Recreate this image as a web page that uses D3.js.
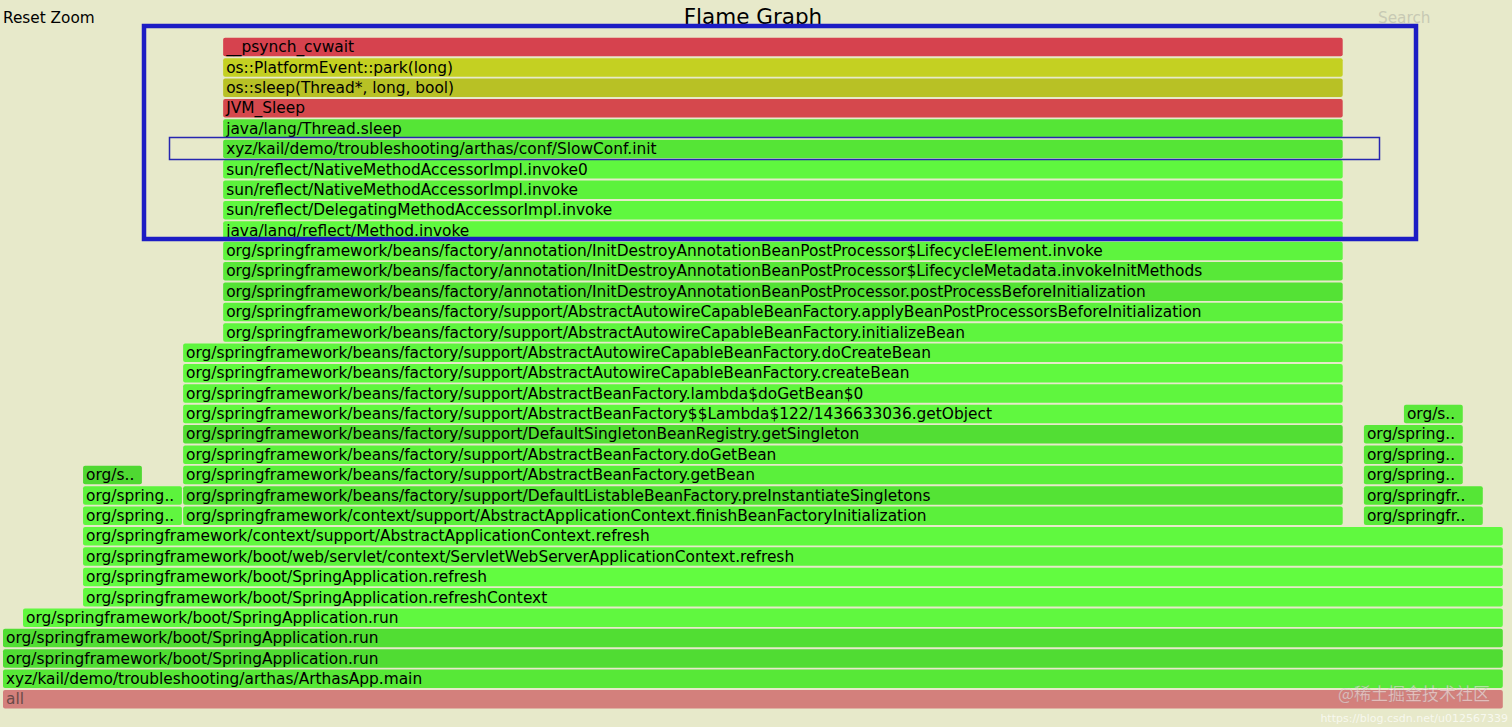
<!DOCTYPE html>
<html>
<head>
<meta charset="utf-8">
<script src="https://cdn.jsdelivr.net/npm/d3@7"></script>
<style>
  html, body { margin: 0; padding: 0; background: #e7e9ca; overflow: hidden; }
  svg { display: block; }
</style>
</head>
<body>
<svg id="chart" width="1512" height="727"></svg>
<script>
// ---------------- DATA ----------------
const totalSamples = 75;
const frameNames = [
  "all",
  "xyz/kail/demo/troubleshooting/arthas/ArthasApp.main",
  "org/springframework/boot/SpringApplication.run",
  "org/springframework/boot/SpringApplication.run",
  "org/springframework/boot/SpringApplication.run",
  "org/springframework/boot/SpringApplication.refreshContext",
  "org/springframework/boot/SpringApplication.refresh",
  "org/springframework/boot/web/servlet/context/ServletWebServerApplicationContext.refresh",
  "org/springframework/context/support/AbstractApplicationContext.refresh",
  "org/springframework/context/support/AbstractApplicationContext.invokeBeanFactoryPostProcessors",
  "org/springframework/context/support/AbstractApplicationContext.finishBeanFactoryInitialization",
  "org/springframework/context/support/AbstractApplicationContext.registerBeanPostProcessors",
  "org/springframework/context/support/PostProcessorRegistrationDelegate.invokeBeanFactoryPostProcessors",
  "org/springframework/beans/factory/support/DefaultListableBeanFactory.preInstantiateSingletons",
  "org/springframework/context/support/PostProcessorRegistrationDelegate.registerBeanPostProcessors",
  "org/springframework/beans/factory/support/AbstractBeanFactory.getBean",
  "org/springframework/beans/factory/support/AbstractBeanFactory.getBean",
  "org/springframework/beans/factory/support/AbstractBeanFactory.getBean",
  "org/springframework/beans/factory/support/AbstractBeanFactory.doGetBean",
  "org/springframework/beans/factory/support/AbstractBeanFactory.doGetBean",
  "org/springframework/beans/factory/support/DefaultSingletonBeanRegistry.getSingleton",
  "org/springframework/beans/factory/support/DefaultSingletonBeanRegistry.getSingleton",
  "org/springframework/beans/factory/support/AbstractBeanFactory$$Lambda$122/1436633036.getObject",
  "org/springframework/beans/factory/support/AbstractBeanFactory$$Lambda$122/1436633036.getObject",
  "org/springframework/beans/factory/support/AbstractBeanFactory.lambda$doGetBean$0",
  "org/springframework/beans/factory/support/AbstractAutowireCapableBeanFactory.createBean",
  "org/springframework/beans/factory/support/AbstractAutowireCapableBeanFactory.doCreateBean",
  "org/springframework/beans/factory/support/AbstractAutowireCapableBeanFactory.initializeBean",
  "org/springframework/beans/factory/support/AbstractAutowireCapableBeanFactory.applyBeanPostProcessorsBeforeInitialization",
  "org/springframework/beans/factory/annotation/InitDestroyAnnotationBeanPostProcessor.postProcessBeforeInitialization",
  "org/springframework/beans/factory/annotation/InitDestroyAnnotationBeanPostProcessor$LifecycleMetadata.invokeInitMethods",
  "org/springframework/beans/factory/annotation/InitDestroyAnnotationBeanPostProcessor$LifecycleElement.invoke",
  "java/lang/reflect/Method.invoke",
  "sun/reflect/DelegatingMethodAccessorImpl.invoke",
  "sun/reflect/NativeMethodAccessorImpl.invoke",
  "sun/reflect/NativeMethodAccessorImpl.invoke0",
  "xyz/kail/demo/troubleshooting/arthas/conf/SlowConf.init",
  "java/lang/Thread.sleep",
  "JVM_Sleep",
  "os::sleep(Thread*, long, bool)",
  "os::PlatformEvent::park(long)",
  "__psynch_cvwait"
];
const frameDepths = [0, 1, 2, 3, 4, 5, 6, 7, 8, 9, 9, 9, 10, 10, 10, 11, 11, 11, 12, 12, 13, 13, 14, 14, 15, 16, 17, 18, 19, 20, 21, 22, 23, 24, 25, 26, 27, 28, 29, 30, 31, 32];
const frameStarts = [0, 0, 0, 0, 1, 4, 4, 4, 4, 4, 9, 68, 4, 9, 68, 4, 9, 68, 9, 68, 9, 68, 9, 70, 9, 9, 9, 11, 11, 11, 11, 11, 11, 11, 11, 11, 11, 11, 11, 11, 11, 11];
const frameValues = [75, 75, 75, 75, 74, 71, 71, 71, 71, 5, 58, 6, 5, 58, 6, 3, 58, 5, 58, 5, 58, 5, 58, 3, 58, 58, 58, 56, 56, 56, 56, 56, 56, 56, 56, 56, 56, 56, 56, 56, 56, 56];

// ---------------- STYLE ----------------
const frameColors = [
  "#d3807c", "#57e837", "#50dc33", "#51de33", "#60f83f", "#60fa3f", "#62fc40", "#5ef53d", "#60f93f",
  "#60f63f", "#5bf03b", "#5ae93a",
  "#5cf33c", "#54e335", "#55e636",
  "#4fd832", "#5af03b", "#5ae83a",
  "#5cf23c", "#58e638",
  "#52de34", "#5ae83a",
  "#60f83f", "#5ae83a",
  "#5ff63e", "#60f93f", "#5ef53e", "#5ef53e", "#5cf13c", "#54e235", "#58e838", "#5ef43e",
  "#60f93f", "#5ff73f", "#5cf23c", "#5ff73f", "#55e536", "#55e536",
  "#d5484d", "#b8c125", "#c4d022", "#d6424e"
];
const fontFamily = "Verdana, 'DejaVu Sans', sans-serif";
const rowPitch = 20.38;
const barH = 18.5;
const baseTop = 690;

const svg = d3.select("#chart");

const x = d3.scaleLinear().domain([0, totalSamples]).range([3, 1504]);
const y = d3.scaleLinear().domain([0, 1]).range([baseTop, baseTop - rowPitch]);

const frames = frameNames.map((name, i) => ({
  name, depth: frameDepths[i], start: frameStarts[i], value: frameValues[i], color: frameColors[i]
}));

const g = svg.append("g");
const fg = g.selectAll("g.frame").data(frames).join("g").attr("class", "frame");

fg.append("rect")
  .attr("x", d => x(d.start))
  .attr("y", d => y(d.depth))
  .attr("width", d => x(d.start + d.value) - x(d.start) - 1.2)
  .attr("height", barH)
  .attr("rx", 2).attr("ry", 2)
  .attr("fill", d => d.color);

fg.append("text")
  .attr("x", d => x(d.start) + 3)
  .attr("y", d => y(d.depth) + 14.4)
  .attr("font-family", fontFamily)
  .attr("font-size", 15.4)
  .attr("fill", d => d.depth === 0 ? "#6a4a48" : "#000")
  .text(d => {
    const w = x(d.start + d.value) - x(d.start);
    const chars = Math.floor(w / 8.1);
    if (chars < 3) return "";
    return d.name.length <= chars ? d.name : d.name.substring(0, chars - 2) + "..";
  });

// Header texts
svg.append("text").attr("x", 753).attr("y", 24).attr("text-anchor", "middle")
  .attr("font-family", fontFamily).attr("font-size", 21.5).attr("fill", "#000").text("Flame Graph");
svg.append("text").attr("x", 3).attr("y", 23)
  .attr("font-family", fontFamily).attr("font-size", 15.3).attr("fill", "#000").text("Reset Zoom");
svg.append("text").attr("x", 1378).attr("y", 23)
  .attr("font-family", fontFamily).attr("font-size", 15.3).attr("fill", "#c8c9b4").text("Search");

// Annotation boxes
svg.append("rect").attr("x", 144).attr("y", 26).attr("width", 1272).attr("height", 213)
  .attr("fill", "none").attr("stroke", "#1c1cc4").attr("stroke-width", 4.5);
svg.append("rect").attr("x", 169.5).attr("y", 137.5).attr("width", 1210).attr("height", 22)
  .attr("fill", "none").attr("stroke", "#2626b0").attr("stroke-width", 1.5);

// Watermark
svg.append("text").attr("x", 1490).attr("y", 700).attr("text-anchor", "end")
  .attr("font-family", "'Noto Sans CJK SC', sans-serif").attr("font-size", 17)
  .attr("fill", "#ffffff").attr("fill-opacity", 0.55)
  .attr("stroke", "#9a8a88").attr("stroke-opacity", 0.35).attr("stroke-width", 0.6)
  .text("@稀土掘金技术社区");
svg.append("text").attr("x", 1508).attr("y", 722).attr("text-anchor", "end")
  .attr("font-family", fontFamily).attr("font-size", 11)
  .attr("fill", "#ffffff").attr("fill-opacity", 0.7)
  .text("https://blog.csdn.net/u012567339");
</script>
</body>
</html>
